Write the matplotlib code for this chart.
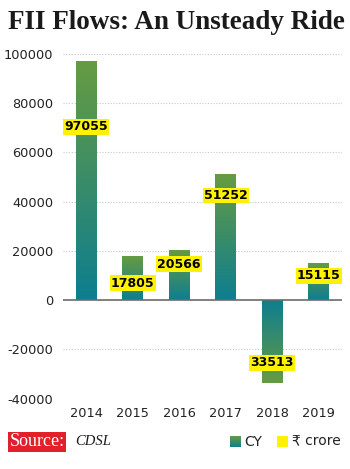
import numpy as np
import matplotlib.pyplot as plt
from matplotlib.colors import to_rgb
from matplotlib.patches import Rectangle

years = ['2014', '2015', '2016', '2017', '2018', '2019']
flows = [97055, 17805, 20566, 51252, -33513, 15115]
labels = ['97055', '17805', '20566', '51252', '33513', '15115']
yticks = [-40000, -20000, 0, 20000, 40000, 60000, 80000, 100000]

# where each yellow label sits, as a fraction of its bar
label_frac = [0.725, 0.39, 0.71, 0.83, 0.76, 0.65]

green = '#669b42'
teal = '#0e7e8f'
yellow = '#fff200'
serif = ['Liberation Serif', 'DejaVu Serif']

plt.rcParams['font.family'] = ['DejaVu Sans']

fig = plt.figure(figsize=(3.5, 4.69), dpi=100)
ax = fig.add_axes([0.18, 0.15, 0.797, 0.735])

x = np.arange(len(years))
bars = ax.bar(x, flows, width=0.45, color='none', edgecolor='none', zorder=3)

# gradient fill: teal at the base, green at the tip
n = 64
c0, c1 = np.array(to_rgb(teal)), np.array(to_rgb(green))
t = np.linspace(0, 1, n)[:, None]
grad = (c0 * (1 - t) + c1 * t)[:, None, :]
for b, v in zip(bars, flows):
    x0 = b.get_x()
    x1 = x0 + b.get_width()
    img = grad if v >= 0 else grad[::-1]
    lo, hi = min(0, v), max(0, v)
    im = ax.imshow(img, extent=[x0, x1, lo, hi], origin='lower',
                   aspect='auto', zorder=3, interpolation='bilinear')
    im.set_clip_path(b)

for xi, v, lab, f in zip(x, flows, labels, label_frac):
    ax.text(xi, v * f, lab, ha='center', va='center', fontsize=9,
            fontweight='bold', color='black', zorder=5,
            bbox=dict(boxstyle='square,pad=0.1', fc=yellow, ec='none'))

ax.set_xlim(-0.5, 5.5)
ax.set_ylim(-40000, 100000)
ax.set_yticks(yticks)
ax.set_yticklabels([str(v) for v in yticks])
ax.set_xticks(x)
ax.set_xticklabels(years)
ax.tick_params(axis='both', length=0, labelsize=9.3, colors='#222222')
ax.tick_params(axis='y', pad=7)
ax.tick_params(axis='x', pad=6)

for yv in yticks:
    if yv != 0:
        ax.axhline(yv, color='#c8c8c8', lw=0.8, ls=(0, (1, 1.5)), zorder=1)
ax.axhline(0, color='#6b6b6b', lw=1.2, zorder=4)

for s in ax.spines.values():
    s.set_visible(False)

fig.text(0.505, 0.951, 'FII Flows: An Unsteady Ride', ha='center', va='center',
         fontsize=19.5, fontweight='bold', family=serif, color='#1a1a1a')

# source box
fig.text(0.027, 0.058, 'Source:', ha='left', va='center', fontsize=13,
         family=serif, color='white',
         bbox=dict(boxstyle='square,pad=0.08', fc='#e2202a', ec='none'))
fig.text(0.215, 0.058, 'CDSL', ha='left', va='center', fontsize=10.5,
         style='italic', family=serif, color='#1a1a1a')

# legend
lg = fig.add_axes([0.657, 0.0475, 0.03, 0.0224])
lg.imshow(grad[::-1], aspect='auto', extent=[0, 1, 0, 1])
lg.axis('off')
fig.text(0.698, 0.058, 'CY', ha='left', va='center', fontsize=10, color='#222222')
fig.patches.append(Rectangle((0.792, 0.0475), 0.03, 0.0224, transform=fig.transFigure,
                             fc=yellow, ec='none'))
fig.text(0.835, 0.058, '₹ crore', ha='left', va='center', fontsize=10,
         color='#222222')

fig.savefig('out.png', dpi=100)
